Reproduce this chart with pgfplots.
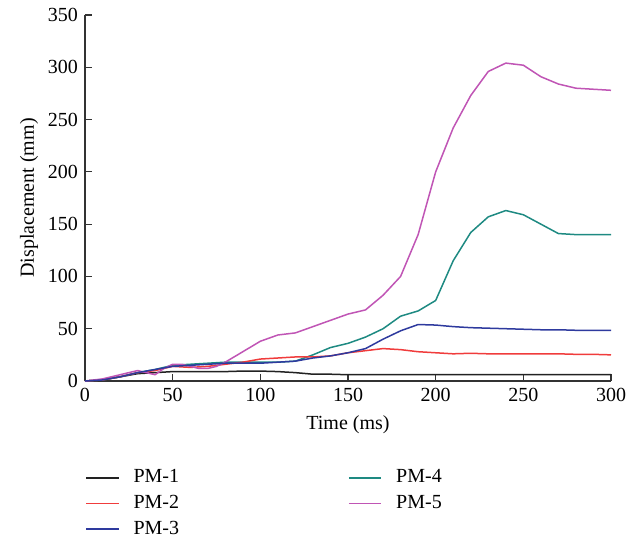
\documentclass[border=0pt]{standalone}
\usepackage{fontspec}
\setmainfont{Liberation Serif}
\usepackage{pgfplots}
\pgfplotsset{compat=1.18}
\definecolor{pmblack}{RGB}{34,34,34}
\definecolor{pmred}{RGB}{240,60,60}
\definecolor{pmblue}{RGB}{46,58,158}
\definecolor{pmteal}{RGB}{30,138,130}
\definecolor{pmmag}{RGB}{192,85,181}

\begin{document}
\begin{tikzpicture}
\path (-42.5pt,-80pt) rectangle (278.5pt,190.5pt);
\begin{axis}[
  scale only axis, width=263pt, height=183pt,
  xmin=0, xmax=300, ymin=0, ymax=350,
  xtick={0,50,...,300}, ytick={0,50,...,350},
  axis x line=bottom, axis y line=left,
  axis line style={-, draw=black!80, line width=0.6pt},
  major tick length=3.5pt,
  tick style={draw=black!80, line width=0.6pt},
  tick align=inside,
  /pgf/number format/assume math mode=true,
  ticklabel style={font=\fontsize{10}{12}\selectfont},
  label style={font=\fontsize{10}{12}\selectfont},
  ylabel style={yshift=-2pt},
  xlabel={Time (ms)}, ylabel={Displacement (mm)},
  legend columns=2,
  legend cell align=left,
  legend style={draw=none, fill=none, at={(0,-0.23)}, anchor=north west,
    font=\fontsize{10}{12}\selectfont, inner sep=0pt,
    /tikz/every odd column/.append style={column sep=5pt},
    /tikz/every even column/.append style={column sep=82.5pt},
    row sep=0.8pt},
  legend image post style={xscale=0.95, line width=0.85pt},
  every axis plot/.append style={line width=0.75pt, line join=round},
]
% plotted in legend order (two columns, filled row by row)
\addplot[color=pmblack] coordinates {
  (0,0) (10,1) (20,4) (30,7) (40,8) (50,9) (60,9) (70,9) (80,9) (90,9.5)
  (100,9.5) (110,9) (120,8) (130,6.5) (140,6.5) (150,6) (160,6) (170,6)
  (180,6) (190,6) (200,6) (210,6) (220,6) (230,6) (240,6) (250,6) (260,6)
  (270,6) (280,6) (290,6) (300,6)};
\addlegendentry{PM-1}
\addplot[color=pmteal] coordinates {
  (0,0) (10,1) (20,4) (30,8) (40,11) (50,15) (60,16) (70,17) (80,18) (90,18)
  (100,18) (110,18) (120,19) (130,25) (140,32) (150,36) (160,42) (170,50)
  (180,62) (190,67) (200,77) (210,115) (220,142) (230,157) (240,163)
  (250,159) (260,150) (270,141) (280,140) (290,140) (300,140)};
\addlegendentry{PM-4}
\addplot[color=pmred] coordinates {
  (0,0) (10,1) (20,4) (30,8) (40,10) (50,14) (60,13) (70,14) (80,16) (90,18)
  (100,21) (110,22) (120,23) (130,23) (140,24) (150,27) (160,29) (170,31)
  (180,30) (190,28) (200,27) (210,26) (220,26.5) (230,26) (240,26) (250,26)
  (260,26) (270,26) (280,25.5) (290,25.5) (300,25)};
\addlegendentry{PM-2}
\addplot[color=pmmag] coordinates {
  (0,0) (10,2) (20,6) (30,10) (35,8) (40,6) (45,12) (50,16) (55,16) (60,14)
  (65,12) (70,12) (75,14) (80,18) (90,28) (100,38) (110,44) (120,46)
  (130,52) (140,58) (150,64) (160,68) (170,82) (180,100) (190,140)
  (200,200) (210,242) (220,273) (230,296) (240,304) (250,302) (260,291)
  (270,284) (280,280) (290,279) (300,278)};
\addlegendentry{PM-5}
\addplot[color=pmblue] coordinates {
  (0,0) (10,1) (20,4) (30,8) (40,11) (50,14) (60,15) (70,16) (80,17) (90,17)
  (100,17) (110,18) (120,19) (130,22) (140,24) (150,27) (160,31) (170,40)
  (180,48) (190,54) (200,53.5) (210,52) (220,51) (230,50.5) (240,50)
  (250,49.5) (260,49) (270,49) (280,48.5) (290,48.5) (300,48.5)};
\addlegendentry{PM-3}
\end{axis}
\end{tikzpicture}
\end{document}
